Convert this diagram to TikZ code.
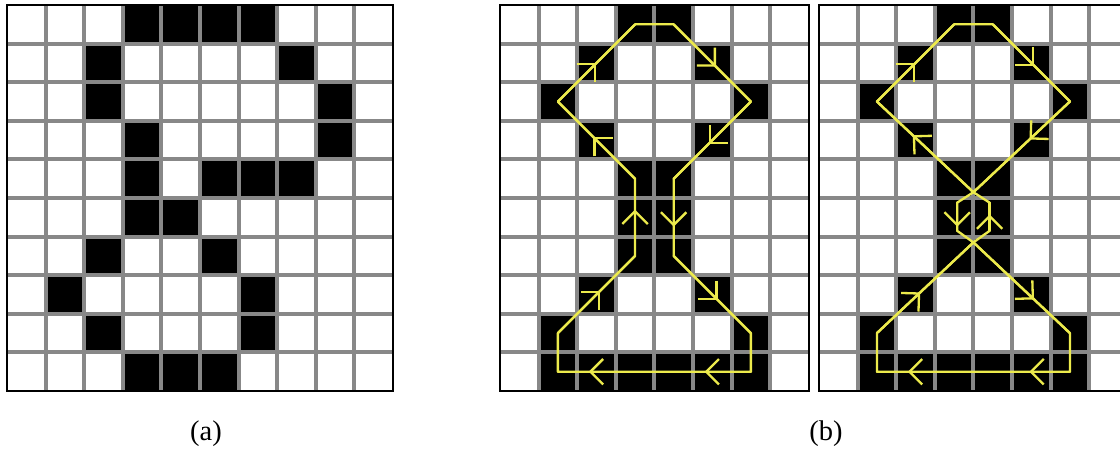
\documentclass[tikz,border=0pt]{standalone}
\usepackage{fontspec}
\setmainfont{Liberation Serif}
\usetikzlibrary{arrows.meta,calc,decorations.markings}
\definecolor{gridgray}{RGB}{136,136,136}
\definecolor{traceyellow}{RGB}{236,234,76}
\tikzset{
  gridline/.style={gridgray,line width=0.104cm},
  frameline/.style={black,line width=0.065cm},
  trace/.style={traceyellow,line width=0.06cm,line cap=round,line join=round},
  midarrow/.style={postaction={decorate,decoration={markings,
    mark=at position #1 with {\arrow{Straight Barb[length=0.33cm,width=0.66cm]}}}}},
  caption/.style={anchor=base,font=\fontsize{21}{25}\selectfont},
}
\begin{document}
\begin{tikzpicture}[x=1cm,y=-1cm]
  \def\W{29.016}
  \def\H{11.632}
  \useasboundingbox (0,0) rectangle (\W,\H);
  \clip (0,0) rectangle (\W,\H);
  % (a): 10x10 grid
  \begin{scope}[shift={(0.181,0.130)}]
    \foreach \c/\r in {3/0,4/0,5/0,6/0,2/1,7/1,2/2,8/2,3/3,8/3,3/4,5/4,6/4,7/4,
                       3/5,4/5,2/6,5/6,1/7,6/7,2/8,6/8,3/9,4/9,5/9}
      \fill[black] (\c,\r) rectangle ++(1,1);
    \foreach \i in {1,...,9} {
      \draw[gridline] (\i,0) -- (\i,10);
      \draw[gridline] (0,\i) -- (10,\i);
    }
    \draw[frameline] (0,0) rectangle (10,10);
  \end{scope}
  % (b): two 8x10 grids, same pixels
  \foreach \gx in {12.953,21.218} {
    \begin{scope}[shift={(\gx,0.130)}]
      \foreach \c/\r in {3/0,4/0,2/1,5/1,1/2,6/2,2/3,5/3,3/4,4/4,3/5,4/5,3/6,4/6,
                         2/7,5/7,1/8,6/8,1/9,2/9,3/9,4/9,5/9,6/9}
        \fill[black] (\c,\r) rectangle ++(1,1);
      \foreach \i in {1,...,7} \draw[gridline] (\i,0) -- (\i,10);
      \foreach \i in {1,...,9} \draw[gridline] (0,\i) -- (8,\i);
      \draw[frameline] (0,0) rectangle (8,10);
    \end{scope}
  }
  % Left trace: one loop
  \begin{scope}[shift={(12.953,0.130)}]
    \coordinate (lA) at (3.5,0.5);
    \coordinate (lB) at (4.5,0.5);
    \coordinate (lC) at (6.5,2.5);
    \coordinate (lD) at (4.5,4.5);
    \coordinate (lE) at (4.5,6.5);
    \coordinate (lF) at (6.5,8.5);
    \coordinate (lG) at (6.5,9.5);
    \coordinate (lH) at (1.5,9.5);
    \coordinate (lI) at (1.5,8.5);
    \coordinate (lJ) at (3.5,6.5);
    \coordinate (lK) at (3.5,4.5);
    \coordinate (lL) at (1.5,2.5);
    \draw[trace] (lA) -- (lB) -- (lC) -- (lD) -- (lE) -- (lF) -- (lG)
      -- (lH) -- (lI) -- (lJ) -- (lK) -- (lL) -- cycle;
    \draw[trace,midarrow=0.55] (lB) -- (lC);
    \draw[trace,midarrow=0.55] (lC) -- (lD);
    \draw[trace,midarrow=0.62] (lD) -- (lE);
    \draw[trace,midarrow=0.57] (lE) -- (lF);
    \draw[trace,midarrow=0.24,midarrow=0.84] (lG) -- (lH);
    \draw[trace,midarrow=0.55] (lI) -- (lJ);
    \draw[trace,midarrow=0.6] (lJ) -- (lK);
    \draw[trace,midarrow=0.54] (lK) -- (lL);
    \draw[trace,midarrow=0.5] (lL) -- (lA);
  \end{scope}
  % Right trace: crossing with small hexagon
  \begin{scope}[shift={(21.218,0.130)}]
    \coordinate (rA) at (3.5,0.5);
    \coordinate (rB) at (4.5,0.5);
    \coordinate (rC) at (6.5,2.5);
    \coordinate (rX) at (4,4.85);
    \coordinate (rP) at (3.58,5.12);
    \coordinate (rQ) at (3.58,5.85);
    \coordinate (rY) at (4,6.15);
    \coordinate (rF) at (6.5,8.5);
    \coordinate (rG) at (6.5,9.5);
    \coordinate (rH) at (1.5,9.5);
    \coordinate (rI) at (1.5,8.5);
    \coordinate (rS) at (4.42,5.85);
    \coordinate (rT) at (4.42,5.12);
    \coordinate (rL) at (1.5,2.5);
    \draw[trace] (rA) -- (rB) -- (rC) -- (rX) -- (rP) -- (rQ) -- (rY) -- (rF)
      -- (rG) -- (rH) -- (rI) -- (rY) -- (rS) -- (rT) -- (rX) -- (rL) -- cycle;
    \draw[trace,midarrow=0.54] (rB) -- (rC);
    \draw[trace,midarrow=0.42] (rC) -- (rX);
    \draw[trace,midarrow=0.85] (rP) -- (rQ);
    \draw[trace,midarrow=0.63] (rY) -- (rF);
    \draw[trace,midarrow=0.21,midarrow=0.84] (rG) -- (rH);
    \draw[trace,midarrow=0.45] (rI) -- (rY);
    \draw[trace,midarrow=0.58] (rS) -- (rT);
    \draw[trace,midarrow=0.63] (rX) -- (rL);
    \draw[trace,midarrow=0.5] (rL) -- (rA);
  \end{scope}
  % Labels
  \node[caption] (capa) at (5.337,11.40) {(a)};
  \node[caption] (capb) at (21.40,11.40) {(b)};
\end{tikzpicture}
\end{document}
